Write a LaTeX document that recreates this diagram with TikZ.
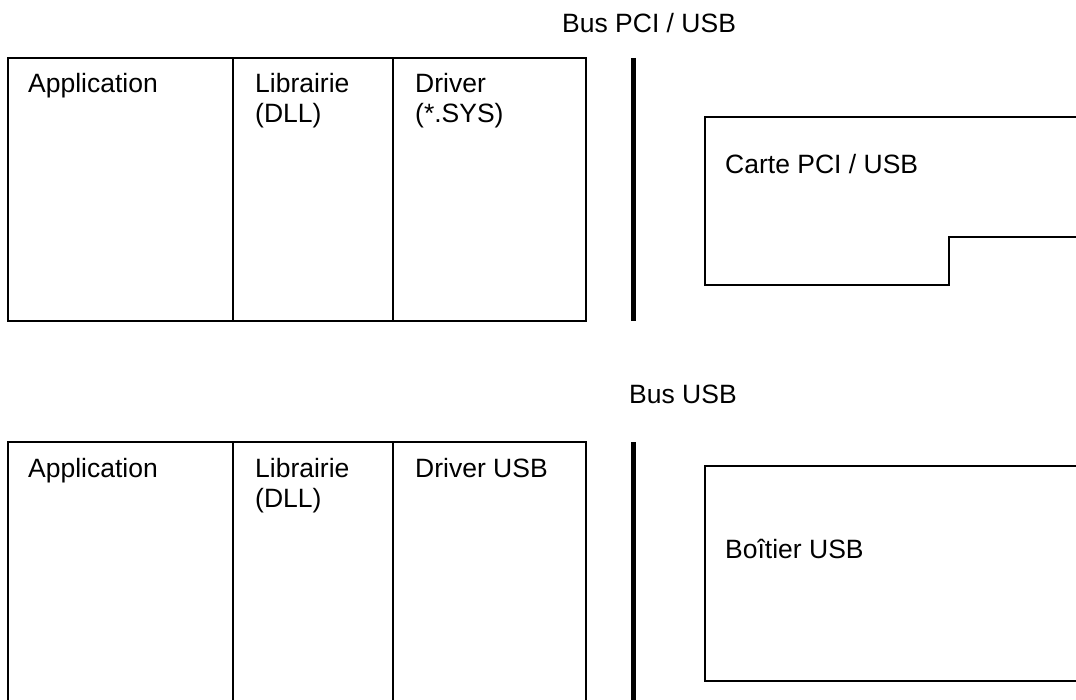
\documentclass[tikz,border=0pt]{standalone}
\usepackage{fontspec}
\setmainfont{Liberation Sans}
\begin{document}
\begin{tikzpicture}[x=1pt,y=-1pt,
  lbl/.style={anchor=base west,inner sep=0pt,font=\fontsize{26.5}{30}\selectfont,align=left},
  thin/.style={draw=black,line width=2pt},
  busline/.style={draw=black,line width=5.5pt}]
\useasboundingbox (0,0) rectangle (1076,700);
\clip (0,0) rectangle (1076,700);
% ---------- top group ----------
\node[lbl] (bus1) at (562,33) {Bus PCI / USB};
\draw[thin] (8,58) rectangle (586,321);
\draw[thin] (233,58) -- (233,321);
\draw[thin] (393,58) -- (393,321);
\node[lbl] (app1) at (28,93) {Application};
\node[lbl] (lib1) at (255,123) {Librairie\\(DLL)};
\node[lbl] (drv1) at (415,123) {Driver\\(*.SYS)};
\coordinate (b1t) at (633.5,58);
\coordinate (b1b) at (633.5,321);
\draw[busline] (b1t) -- (b1b);
\draw[thin] (1085,117) -- (705,117) -- (705,285) -- (949,285) -- (949,237) -- (1085,237);
\node[lbl] (carte) at (725,174) {Carte PCI / USB};
% ---------- bottom group ----------
\node[lbl] (bus2) at (629,403) {Bus USB};
\draw[thin] (8,442) rectangle (586,710);
\draw[thin] (233,442) -- (233,710);
\draw[thin] (393,442) -- (393,710);
\node[lbl] (app2) at (28,477) {Application};
\node[lbl] (lib2) at (255,507) {Librairie\\(DLL)};
\node[lbl] (drv2) at (415,477) {Driver USB};
\coordinate (b2t) at (633.5,442);
\coordinate (b2b) at (633.5,710);
\draw[busline] (b2t) -- (b2b);
\draw[draw=black,line width=2.5pt] (705,466) rectangle (1085,681);
\node[lbl] (boitier) at (725,558) {Boîtier USB};
\end{tikzpicture}
\end{document}
